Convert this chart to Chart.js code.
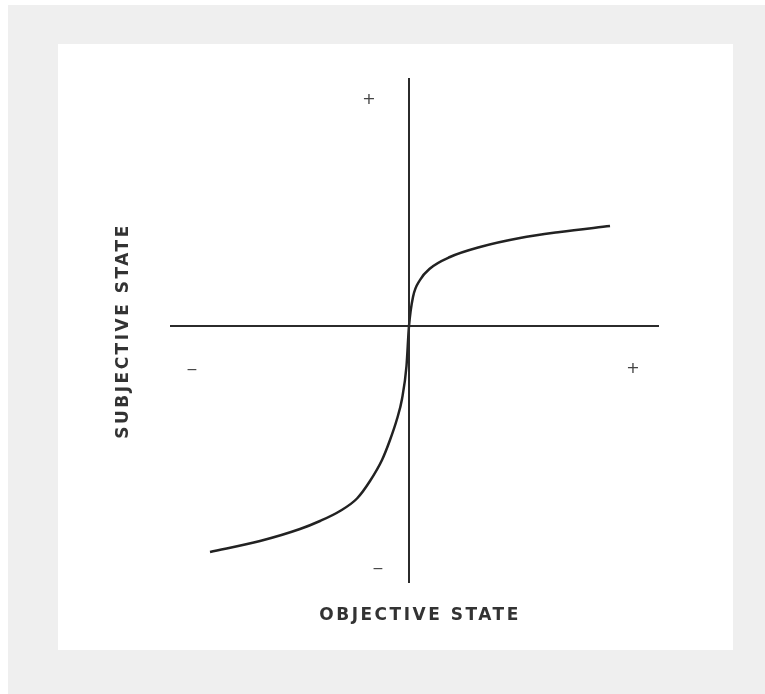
<!DOCTYPE html>
<html>
<head>
<meta charset="utf-8">
<script src="https://cdn.jsdelivr.net/npm/chart.js@4"></script>
<style>
  html, body { margin: 0; padding: 0; background: #fff; }
  #outer { position: absolute; left: 8px; top: 5px; width: 757px; height: 689px; background: #efefef; }
  #panel { position: absolute; left: 50px; top: 39px; width: 675px; height: 606px; background: #fff; }
  #chart { position: absolute; left: 0; top: 0; }
</style>
</head>
<body>
<div id="outer">
  <div id="panel"><canvas id="chart" width="675" height="606"></canvas></div>
</div>
<script>
// curve (objective -> subjective)
const objetivo = [-3.98, -2.98, -2.18, -1.78, -1.38, -1.04, -0.78, -0.54, -0.38, -0.24, -0.14, -0.05, 0, 0.08, 0.22, 0.42, 0.82, 1.42, 2.22, 3.02, 4.02];
const subjetivo = [-4.52, -4.30, -4.06, -3.90, -3.70, -3.45, -3.10, -2.68, -2.28, -1.86, -1.46, -0.80, 0, 0.58, 0.92, 1.15, 1.38, 1.58, 1.76, 1.88, 2.0];
const rangoX = [-4.78, 5.0];
const rangoY = [-5.14, 4.96];
const tituloX = 'OBJECTIVE STATE';
const tituloY = 'SUBJECTIVE STATE';
// sign markers: [x, y, text]
const signos = [
  [-0.8, 4.52, '+'],
  [-4.34, -0.88, '\u2212'],
  [4.48, -0.86, '+'],
  [-0.62, -4.86, '\u2212']
];

const etiquetas = {
  id: 'etiquetas',
  afterDraw(chart) {
    const { ctx, chartArea, scales } = chart;
    ctx.save();
    ctx.fillStyle = '#444';
    ctx.textAlign = 'center';
    ctx.textBaseline = 'middle';
    signos.forEach(([x, y, t]) => {
      ctx.font = t === '+' ? '16px "DejaVu Sans"' : '14px "DejaVu Sans"';
      ctx.fillText(t, scales.x.getPixelForValue(x), scales.y.getPixelForValue(y));
    });

    ctx.fillStyle = '#333';
    ctx.font = 'bold 17px "DejaVu Sans"';
    ctx.letterSpacing = '2.5px';
    ctx.fillText(tituloX, scales.x.getPixelForValue(0.22), chartArea.bottom + 33);

    ctx.translate(chartArea.left - 46, scales.y.getPixelForValue(-0.1));
    ctx.rotate(-Math.PI / 2);
    ctx.fillText(tituloY, 0, 0);
    ctx.restore();
  }
};

new Chart(document.getElementById('chart'), {
  type: 'scatter',
  data: {
    datasets: [
      {
        data: [{ x: rangoX[0], y: 0 }, { x: rangoX[1], y: 0 }],
        showLine: true, borderColor: '#2b2b2b', borderWidth: 2, pointRadius: 0
      },
      {
        data: [{ x: 0, y: rangoY[0] }, { x: 0, y: rangoY[1] }],
        showLine: true, borderColor: '#2b2b2b', borderWidth: 2, pointRadius: 0
      },
      {
        data: objetivo.map((x, i) => ({ x, y: subjetivo[i] })),
        showLine: true, borderColor: '#222', borderWidth: 2.5, pointRadius: 0,
        cubicInterpolationMode: 'monotone'
      }
    ]
  },
  options: {
    responsive: false,
    animation: false,
    layout: { padding: { left: 112, right: 74, top: 34, bottom: 67 } },
    plugins: { legend: { display: false }, tooltip: { enabled: false } },
    scales: {
      x: { type: 'linear', min: rangoX[0], max: rangoX[1], display: false },
      y: { type: 'linear', min: rangoY[0], max: rangoY[1], display: false }
    }
  },
  plugins: [etiquetas]
});
</script>
</body>
</html>
